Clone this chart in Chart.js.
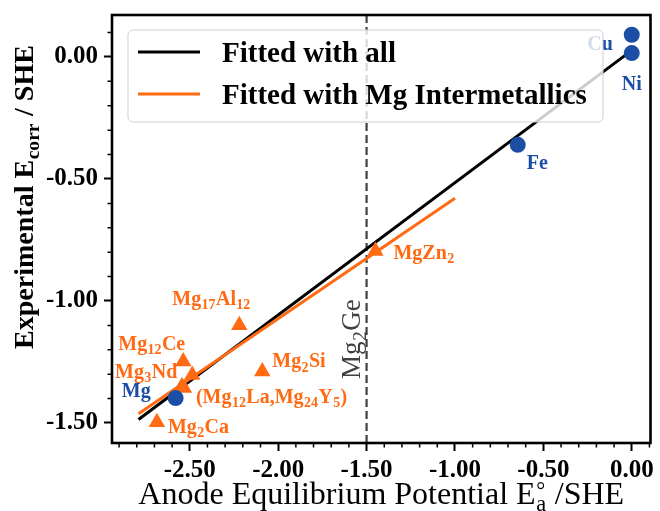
<!DOCTYPE html>
<html><head><meta charset="utf-8">
<script src="https://cdn.jsdelivr.net/npm/chart.js@4"></script>
<style>html,body{margin:0;padding:0;background:#fff}</style>
</head><body>
<canvas id="c" width="660" height="511"></canvas>
<script>
// ---------- data ----------
const metalNames = ['Cu', 'Ni', 'Fe', 'Mg'];
const metalX = [0.00, 0.00, -0.645, -2.58];
const metalY = [0.091, 0.016, -0.36, -1.398];

const imcNames = ['MgZn_2', 'Mg_{17}Al_{12}', 'Mg_2Si', 'Mg_{12}Ce', 'Mg_3Nd', '(Mg_{12}La,Mg_{24}Y_5)', '', 'Mg_2Ca'];
const imcX = [-1.45, -2.22, -2.09, -2.537, -2.486, -2.533, -2.545, -2.686];
const imcY = [-0.795, -1.099, -1.289, -1.248, -1.303, -1.357, -1.350, -1.497];

const fitAllX = [-2.79, 0.00];
const fitAllY = [-1.486, 0.027];
const fitImcX = [-2.79, -1.00];
const fitImcY = [-1.462, -0.579];

const refLineX = -1.5;
const refLineLabel = 'Mg_2Ge';

const xTickValues = [-2.5, -2.0, -1.5, -1.0, -0.5, 0.0];
const yTickValues = [0.0, -0.5, -1.0, -1.5];
const legendLabels = ['Fitted with all', 'Fitted with Mg Intermetallics'];
const xTitle = 'Anode Equilibrium Potential E^°_a /SHE';
const yTitle = 'Experimental E_{corr} / SHE';

// ---------- styles ----------
const FAMILY = '"Liberation Serif", "DejaVu Serif", serif';
const BLUE = '#1d4ea6';
const ORANGE = '#ff6a13';
// label offsets (pixels from marker): [dx, dy, align]
const metalLabelPos = [[-19, 9, 'right'], [0, 30, 'center'], [9, 18, 'left'], [-25, -8, 'right']];
const imcLabelPos = [[18, 1, 'left'], [-67, -27, 'left'], [10, -11, 'left'], [2, -18, 'right'], [-15, -4, 'right'], [12, 8, 'left'], [0, 0, 'left'], [11, 4, 'left']];

// ---------- rich text helpers ----------
function parseRich(s) {
  const segs = []; let i = 0, buf = '';
  while (i < s.length) {
    const c = s[i];
    if (c === '_' || c === '^') {
      if (buf) { segs.push({ t: buf, k: 0 }); buf = ''; }
      let t = '';
      if (s[i + 1] === '{') { const j = s.indexOf('}', i + 2); t = s.slice(i + 2, j); i = j + 1; }
      else { t = s[i + 1]; i += 2; }
      segs.push({ t, k: c === '_' ? 1 : 2 });
    } else { buf += c; i++; }
  }
  if (buf) segs.push({ t: buf, k: 0 });
  return segs;
}
function layoutRich(ctx, s, size, weight) {
  const segs = parseRich(s);
  const items = []; let x = 0; let i = 0;
  while (i < segs.length) {
    const sg = segs[i];
    if (sg.k === 0) {
      ctx.font = weight + ' ' + size + 'px ' + FAMILY;
      const w = ctx.measureText(sg.t).width;
      items.push({ t: sg.t, x, dy: 0, font: ctx.font }); x += w; i++;
    } else {
      const group = [sg];
      if (i + 1 < segs.length && segs[i + 1].k !== 0 && segs[i + 1].k !== sg.k) group.push(segs[i + 1]);
      let maxw = 0;
      group.forEach(g => {
        const ss = size * 0.7;
        ctx.font = weight + ' ' + ss + 'px ' + FAMILY;
        const w = ctx.measureText(g.t).width;
        maxw = Math.max(maxw, w);
        items.push({ t: g.t, x: x + size * 0.02, dy: g.k === 1 ? size * 0.22 : -size * 0.2, font: ctx.font });
      });
      x += maxw + size * 0.04; i += group.length;
    }
  }
  return { items, width: x };
}
function drawRich(ctx, s, x, y, align, size, weight, color) {
  const L = layoutRich(ctx, s, size, weight);
  let x0 = x;
  if (align === 'center') x0 = x - L.width / 2; else if (align === 'right') x0 = x - L.width;
  ctx.fillStyle = color; ctx.textBaseline = 'alphabetic'; ctx.textAlign = 'left';
  L.items.forEach(it => { ctx.font = it.font; ctx.fillText(it.t, x0 + it.x, y + it.dy); });
  return L.width;
}

// ---------- plugin ----------
const decor = {
  id: 'decor',
  beforeDatasetsDraw(chart) {
    const { ctx, chartArea: a, scales: { x } } = chart;
    const px = x.getPixelForValue(refLineX);
    ctx.save();
    ctx.strokeStyle = '#404040'; ctx.lineWidth = 2.2; ctx.setLineDash([8, 4]);
    ctx.beginPath(); ctx.moveTo(px, a.top); ctx.lineTo(px, a.bottom); ctx.stroke();
    ctx.setLineDash([]);
    ctx.translate(px - 7, chart.scales.y.getPixelForValue(-1.14) + 4);
    ctx.rotate(-Math.PI / 2);
    drawRich(ctx, refLineLabel, 0, 0, 'center', 27, 'normal', '#404040');
    ctx.restore();
  },
  afterDatasetsDraw(chart) {
    const { ctx, chartArea: a, scales: { x, y } } = chart;
    ctx.save();
    const LS = 20;
    metalNames.forEach((n, i) => {
      if (!n) return;
      const p = metalLabelPos[i];
      drawRich(ctx, n, x.getPixelForValue(metalX[i]) + p[0], y.getPixelForValue(metalY[i]) + p[1] + LS * 0.33, p[2], LS, 'bold', BLUE);
    });
    imcNames.forEach((n, i) => {
      if (!n) return;
      const p = imcLabelPos[i];
      drawRich(ctx, n, x.getPixelForValue(imcX[i]) + p[0], y.getPixelForValue(imcY[i]) + p[1] + LS * 0.33, p[2], LS, 'bold', ORANGE);
    });
    // legend
    const bx = a.left + 16, by = a.top + 15, bw = 475, bh = 92;
    ctx.beginPath();
    ctx.roundRect(bx, by, bw, bh, 5);
    ctx.fillStyle = 'rgba(255,255,255,0.8)'; ctx.fill();
    ctx.strokeStyle = '#d0d0d0'; ctx.lineWidth = 1; ctx.stroke();
    const cols = ['#000000', ORANGE];
    legendLabels.forEach((lab, i) => {
      const cy = by + 22 + i * 42;
      ctx.strokeStyle = cols[i]; ctx.lineWidth = 3;
      ctx.beginPath(); ctx.moveTo(bx + 10, cy); ctx.lineTo(bx + 72, cy); ctx.stroke();
      drawRich(ctx, lab, bx + 94, cy + 29 * 0.33, 'left', 29, 'bold', '#000');
    });
    ctx.restore();
  },
  afterDraw(chart) {
    const { ctx, chartArea: a, scales: { x, y } } = chart;
    ctx.save();
    ctx.strokeStyle = '#000';
    ctx.lineWidth = 1.5;
    ctx.beginPath();
    for (let k = -29; k <= 1; k++) {
      if (k % 5 === 0) continue;
      const px = x.getPixelForValue(k / 10);
      if (px < a.left || px > a.right) continue;
      ctx.moveTo(px, a.bottom); ctx.lineTo(px, a.bottom + 4.5);
    }
    for (let k = -15; k <= 1; k++) {
      if (k % 5 === 0) continue;
      const py = y.getPixelForValue(k / 10);
      if (py < a.top || py > a.bottom) continue;
      ctx.moveTo(a.left, py); ctx.lineTo(a.left - 4.5, py);
    }
    ctx.stroke();
    ctx.lineWidth = 2.6;
    ctx.strokeRect(a.left, a.top, a.right - a.left, a.bottom - a.top);
    drawRich(ctx, xTitle, (a.left + a.right) / 2, 504, 'center', 32, 'normal', '#000');
    ctx.translate(33, 197);
    ctx.rotate(-Math.PI / 2);
    drawRich(ctx, yTitle, 0, 0, 'center', 28, 'bold', '#000');
    ctx.restore();
  }
};

const ctx = document.getElementById('c').getContext('2d');
new Chart(ctx, {
  type: 'scatter',
  data: {
    datasets: [
      { label: legendLabels[0], data: fitAllX.map((v, i) => ({ x: v, y: fitAllY[i] })), showLine: true, borderColor: '#000', borderWidth: 3, pointRadius: 0, order: 3 },
      { label: legendLabels[1], data: fitImcX.map((v, i) => ({ x: v, y: fitImcY[i] })), showLine: true, borderColor: ORANGE, borderWidth: 3, pointRadius: 0, order: 2 },
      { label: 'metals', data: metalX.map((v, i) => ({ x: v, y: metalY[i] })), pointStyle: 'circle', pointRadius: 8, backgroundColor: BLUE, borderWidth: 0, order: 1 },
      { label: 'intermetallics', data: imcX.map((v, i) => ({ x: v, y: imcY[i] })), pointStyle: 'triangle', pointRadius: 9.5, backgroundColor: ORANGE, borderWidth: 0, order: 1 }
    ]
  },
  options: {
    responsive: false, animation: false, events: [],
    plugins: { legend: { display: false }, tooltip: { enabled: false } },
    layout: { padding: { left: 0, right: 5, top: 15, bottom: 0 } },
    scales: {
      x: {
        type: 'linear', min: -2.94, max: 0.106,
        afterBuildTicks: s => { s.ticks = xTickValues.map(v => ({ value: v })); },
        afterFit: s => { s.height = 68; s.paddingLeft = 0; s.paddingRight = 0; },
        ticks: { callback: v => Number(v).toFixed(2), color: '#000', font: { family: FAMILY, size: 25, weight: 'bold' }, padding: 5, maxRotation: 0, autoSkip: false },
        grid: { drawOnChartArea: false, drawTicks: true, tickLength: 8, tickWidth: 2, tickColor: '#000' },
        border: { display: false }
      },
      y: {
        type: 'linear', min: -1.582, max: 0.172,
        afterBuildTicks: s => { s.ticks = yTickValues.map(v => ({ value: v })); },
        afterFit: s => { s.width = 112; s.paddingTop = 0; s.paddingBottom = 0; },
        ticks: { callback: v => Number(v).toFixed(2), color: '#000', font: { family: FAMILY, size: 25, weight: 'bold' }, padding: 6, autoSkip: false },
        grid: { drawOnChartArea: false, drawTicks: true, tickLength: 8, tickWidth: 2, tickColor: '#000' },
        border: { display: false }
      }
    }
  },
  plugins: [decor]
});
</script>
</body></html>
